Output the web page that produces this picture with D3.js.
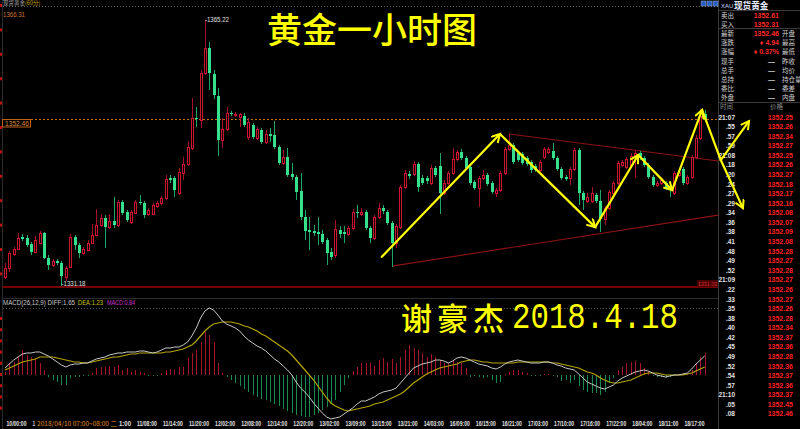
<!DOCTYPE html>
<html><head><meta charset="utf-8">
<script src="https://cdn.jsdelivr.net/npm/d3@7"></script>
<style>html,body{margin:0;padding:0;background:#000;}svg{display:block;}</style>
</head><body><svg id="c" width="800" height="429"></svg>
<script>
const open=[
1332.29,1333.45,1335.25,1335.89,1337.43,1337.30,1336.53,1335.50,1336.66,1337.94,
1334.73,1333.83,1334.35,1334.09,1332.29,1333.58,1337.43,1336.40,1335.37,1335.76,
1336.66,1337.69,1338.97,1339.87,1338.71,1339.48,1338.97,1341.92,1340.64,1339.36,
1340.51,1341.92,1341.79,1340.38,1340.38,1341.41,1341.79,1342.44,1345.00,1345.00,
1343.08,1345.65,1346.80,1348.86,1352.71,1352.45,1358.49,1361.70,1358.36,1355.53,
1349.88,1351.30,1353.35,1353.09,1352.84,1352.97,1350.27,1351.81,1350.14,1351.17,
1349.63,1350.65,1350.53,1348.99,1346.93,1347.70,1345.52,1345.13,1343.34,1340.00,
1338.33,1338.20,1338.07,1337.81,1337.04,1335.50,1335.12,1338.33,1338.07,1337.81,
1338.58,1340.64,1340.38,1340.64,1338.58,1337.30,1340.00,1341.15,1340.64,1339.23,
1336.66,1338.71,1343.85,1345.52,1345.52,1346.80,1345.00,1345.00,1344.36,1346.29,
1346.55,1343.08,1344.36,1345.65,1347.44,1348.34,1347.57,1346.42,1344.49,1343.72,
1345.00,1345.39,1344.36,1343.08,1343.46,1345.65,1348.73,1349.24,1348.21,1348.09,
1347.57,1347.06,1346.55,1346.03,1347.70,1348.34,1348.47,1347.57,1346.16,1345.13,
1345.00,1346.16,1348.60,1343.08,1342.05,1342.05,1342.82,1342.05,1339.74,1341.15,
1343.08,1344.36,1346.67,1346.42,1346.67,1347.83,1348.21,1347.57,1346.67,1345.13,
1344.11,1344.36,1344.36,1343.98,1343.08,1345.39,1346.16,1344.36,1345.13,1347.70,
1350.14,1353.22];
const high=[
1334.09,1335.63,1336.15,1337.94,1337.81,1337.69,1336.79,1337.56,1338.20,1338.07,
1335.12,1334.60,1334.60,1334.35,1333.71,1337.81,1337.69,1336.66,1336.15,1337.04,
1339.10,1341.02,1340.38,1340.25,1340.38,1342.57,1342.18,1342.18,1340.90,1340.90,
1342.18,1342.82,1342.05,1341.15,1341.79,1342.05,1342.69,1345.39,1345.39,1345.26,
1346.29,1347.70,1349.76,1355.28,1354.12,1358.87,1365.22,1362.47,1358.87,1356.56,
1352.71,1354.12,1353.61,1353.48,1353.35,1353.35,1352.71,1352.07,1351.55,1351.42,
1351.17,1351.42,1352.32,1349.24,1348.60,1348.86,1346.93,1345.39,1345.65,1340.90,
1340.00,1338.97,1340.00,1338.33,1337.30,1336.02,1339.61,1338.84,1338.84,1338.84,
1341.02,1341.54,1341.15,1340.90,1338.84,1340.25,1341.79,1341.54,1340.90,1339.48,
1339.10,1344.11,1346.03,1345.90,1347.19,1347.06,1345.39,1345.26,1346.67,1346.55,
1348.21,1344.75,1345.90,1348.86,1348.60,1348.73,1347.83,1346.67,1344.75,1345.26,
1346.03,1345.65,1344.62,1343.72,1345.90,1348.99,1350.65,1349.50,1348.47,1348.34,
1347.83,1347.32,1346.80,1347.32,1348.99,1348.99,1349.50,1347.83,1346.42,1345.39,
1346.42,1348.86,1348.86,1343.34,1343.08,1343.85,1343.08,1343.46,1341.41,1343.46,
1344.62,1347.19,1347.32,1347.70,1348.21,1348.60,1348.47,1347.83,1346.93,1345.39,
1344.62,1345.00,1344.62,1344.23,1345.90,1346.03,1346.42,1345.39,1347.96,1350.53,
1353.86,1353.74];
const low=[
1332.04,1332.94,1334.99,1335.76,1336.92,1336.15,1335.12,1335.37,1336.53,1334.60,
1333.19,1333.58,1333.83,1331.18,1331.78,1333.45,1335.76,1334.73,1335.12,1335.63,
1336.53,1337.56,1338.71,1336.02,1338.46,1338.58,1338.71,1340.25,1339.36,1339.10,
1340.38,1341.54,1339.87,1340.13,1340.25,1341.15,1341.54,1342.18,1344.36,1342.57,
1342.82,1344.75,1346.55,1348.60,1351.55,1351.42,1358.23,1356.30,1355.15,1347.83,
1348.86,1351.04,1352.97,1352.84,1351.55,1351.55,1349.88,1350.01,1349.88,1349.37,
1349.37,1349.63,1348.73,1346.67,1346.67,1345.13,1344.75,1342.18,1339.61,1337.04,
1335.76,1337.56,1336.40,1336.53,1333.83,1334.48,1334.73,1337.30,1336.66,1337.56,
1338.33,1339.87,1340.13,1338.33,1336.66,1337.04,1339.74,1340.38,1338.97,1333.58,
1336.02,1338.46,1343.59,1344.88,1345.26,1343.21,1344.11,1344.23,1344.11,1345.13,
1340.38,1342.82,1344.11,1345.39,1347.19,1347.32,1346.03,1344.11,1343.46,1341.28,
1344.75,1343.98,1342.95,1342.57,1343.21,1345.39,1348.47,1346.80,1347.06,1346.67,
1346.55,1345.65,1345.78,1345.78,1347.44,1348.09,1347.32,1345.90,1344.75,1344.62,
1344.11,1345.90,1341.54,1340.90,1341.79,1341.79,1341.79,1338.07,1338.97,1340.90,
1342.82,1344.11,1346.42,1346.16,1346.42,1345.00,1347.32,1346.42,1344.88,1343.85,
1343.85,1344.11,1343.46,1342.57,1342.82,1345.13,1344.11,1344.11,1344.88,1347.44,
1349.88,1352.20];
const close=[
1333.45,1335.37,1335.89,1337.30,1337.17,1336.40,1335.50,1337.04,1337.94,1334.73,
1333.83,1334.35,1334.09,1332.42,1333.45,1337.43,1336.40,1335.37,1335.89,1336.66,
1337.69,1338.97,1339.87,1338.71,1339.48,1338.97,1341.92,1340.51,1339.61,1340.64,
1341.92,1341.79,1340.25,1340.90,1341.54,1341.79,1342.44,1344.88,1344.75,1343.46,
1345.78,1346.80,1348.99,1352.71,1352.58,1358.49,1361.70,1358.49,1355.66,1349.88,
1351.30,1353.35,1353.22,1353.22,1353.22,1351.81,1352.20,1350.27,1351.30,1349.63,
1350.65,1350.40,1348.99,1346.93,1347.70,1345.39,1345.13,1343.21,1340.00,1338.20,
1338.07,1337.94,1337.81,1336.79,1335.37,1334.86,1338.46,1337.81,1337.81,1338.58,
1340.64,1340.51,1340.64,1338.58,1337.30,1340.00,1341.15,1340.77,1339.23,1336.66,
1338.84,1343.85,1345.65,1345.26,1346.80,1343.85,1344.36,1344.62,1346.29,1345.39,
1343.08,1344.36,1345.65,1347.44,1348.34,1347.57,1346.29,1344.36,1343.72,1345.00,
1345.39,1344.23,1343.21,1343.46,1345.65,1348.73,1349.24,1347.06,1347.32,1346.93,
1346.80,1346.03,1346.03,1347.06,1348.73,1348.73,1347.57,1346.16,1345.00,1344.88,
1346.16,1348.60,1343.08,1342.18,1342.57,1343.08,1342.05,1339.74,1341.15,1343.21,
1344.36,1346.93,1347.06,1347.44,1347.83,1348.21,1347.57,1346.67,1345.13,1344.11,
1344.36,1344.75,1343.72,1343.46,1345.65,1345.78,1344.36,1345.13,1347.70,1350.14,
1352.97,1352.46];

const diff=[
0.7,1.1,1.5,1.8,2.1,2.2,2.2,2.3,2.3,2.1,
1.9,1.6,1.3,1.0,0.8,1.0,1.1,1.1,1.2,1.2,
1.4,1.6,1.7,1.8,2.0,2.1,2.2,2.2,2.3,2.3,
2.3,2.4,2.4,2.3,2.2,2.3,2.5,2.7,2.7,2.8,
2.8,3.0,3.3,3.9,4.7,5.7,6.4,6.7,6.5,6.0,
5.4,5.1,4.9,4.7,4.4,3.9,3.5,3.2,2.9,2.7,
2.4,2.0,1.6,1.3,0.9,0.5,0.0,-0.7,-1.3,-1.7,
-2.2,-2.8,-3.3,-3.8,-4.2,-4.4,-4.3,-4.2,-3.9,-3.6,
-3.3,-2.9,-2.6,-2.6,-2.4,-2.2,-1.9,-1.7,-1.6,-1.5,
-1.3,-0.8,-0.3,0.2,0.7,0.9,1.1,1.2,1.3,1.5,
1.5,1.4,1.2,1.4,1.7,1.8,1.7,1.5,1.3,1.1,
1.0,0.9,0.7,0.6,0.8,1.1,1.3,1.4,1.5,1.4,
1.3,1.2,1.2,1.2,1.3,1.3,1.2,1.0,0.9,0.7,
0.6,0.5,0.1,-0.3,-0.7,-0.9,-1.1,-1.3,-1.4,-1.2,
-1.0,-0.6,-0.3,-0.1,0.1,0.3,0.4,0.5,0.4,0.2,
0.0,-0.1,-0.2,-0.1,0.0,0.0,0.1,0.2,0.6,1.1,
1.5,1.9];
const dea=[
0.5,0.7,0.9,1.1,1.3,1.4,1.5,1.6,1.8,1.8,
1.8,1.8,1.7,1.6,1.5,1.4,1.3,1.3,1.2,1.2,
1.3,1.4,1.5,1.6,1.7,1.8,1.8,1.9,2.0,2.1,
2.1,2.2,2.2,2.2,2.2,2.2,2.2,2.3,2.3,2.4,
2.5,2.6,2.8,3.0,3.4,3.9,4.4,4.8,5.1,5.2,
5.3,5.3,5.3,5.2,5.1,4.9,4.8,4.6,4.4,4.1,
3.9,3.6,3.3,3.0,2.7,2.4,2.0,1.5,1.0,0.5,
0.0,-0.5,-1.1,-1.7,-2.3,-2.8,-3.1,-3.3,-3.5,-3.6,
-3.5,-3.4,-3.3,-3.2,-3.1,-2.9,-2.8,-2.7,-2.5,-2.3,
-2.1,-1.9,-1.6,-1.2,-0.8,-0.5,-0.2,0.1,0.3,0.5,
0.7,0.8,0.9,1.0,1.1,1.3,1.4,1.5,1.5,1.4,
1.3,1.3,1.2,1.2,1.2,1.2,1.2,1.2,1.3,1.3,
1.3,1.3,1.3,1.3,1.3,1.3,1.2,1.2,1.1,1.0,
0.9,0.8,0.7,0.5,0.3,0.2,0.0,-0.3,-0.5,-0.7,
-0.8,-0.8,-0.7,-0.6,-0.5,-0.3,-0.1,0.1,0.2,0.2,
0.2,0.1,0.0,0.0,0.0,0.0,0.0,0.1,0.2,0.4,
0.6,0.8];
const macd=[
0.3,1.2,1.3,1.8,2.5,2.0,1.8,1.7,1.2,0.5,
-0.2,-0.5,-0.7,-1.0,-1.0,-0.3,-0.2,-0.2,-0.1,-0.1,
0.2,0.7,0.8,0.8,0.9,0.8,1.0,0.5,0.7,0.3,
0.5,0.3,0.2,-0.1,-0.1,-0.1,0.2,0.5,0.6,0.5,
0.8,0.8,1.7,2.2,2.5,3.3,4.3,4.0,3.3,1.2,
0.2,-0.2,-0.5,-0.8,-1.1,-1.4,-1.7,-2.0,-2.2,-2.4,
-2.5,-2.7,-2.9,-3.1,-3.4,-3.6,-3.8,-4.0,-4.1,-4.2,
-4.2,-4.0,-3.8,-3.5,-3.2,-2.9,-2.5,-1.7,-1.0,-0.3,
0.4,0.8,1.2,1.2,1.2,0.9,1.5,1.7,1.3,1.6,
1.2,1.8,2.5,3.0,2.7,2.5,2.2,1.8,2.1,1.8,
1.5,1.2,1.2,1.5,1.3,1.2,0.7,-0.2,-0.1,-0.2,
-0.3,-0.2,-0.5,-0.8,-0.7,0.1,0.3,0.5,0.5,0.3,
0.2,-0.1,-0.1,-0.1,0.1,0.1,-0.1,-0.2,-0.6,-0.5,
-0.8,-0.5,-1.1,-1.5,-1.7,-1.8,-1.8,-2.0,-1.7,-0.8,
-0.3,0.5,0.8,1.2,1.3,1.4,1.2,0.7,0.4,-0.1,
-0.2,-0.2,-0.3,-0.2,-0.1,0.1,0.2,0.1,0.5,1.2,
1.8,2.2];

// visible time-axis labels (the ones between 10/00 and 11/08 sit under the cursor box)
const timeLabelIdx=[0,30,36,42,48,54,60,66,72,78,84,90,96,102,108,114,120,126,132,138,144,150,156];
const timeLabels=["10/00:00","11/08:00","11/14:00","11/20:00","12/02:00","12/08:00","12/14:00","12/20:00","13/02:00","13/09:00","13/15:00","13/21:00","14/03:00","16/09:00","16/15:00","16/21:00","17/03:00","17/10:00","17/16:00","17/22:00","18/04:00","18/11:00","18/17:00"];
const cursorText="2018/04/10 07:00~08:00 二";

const quoteLabels=["卖出","买入","最新","涨跌","涨幅","现手","总手","总持","委比","外盘"];
const quoteValues=["1352.61","1352.31","1352.46","♦ 4.94","♦ 0.37%","—","—","—","—","—"];
const quoteRight=["","","开盘","最高","最低","昨收","均价","持仓量","委差","内盘"];
const tickTimes=["21:07",".55",".57",".59","21:08",".18",".20",".24",".27",".29",".34",".36",".38",".41",".48",".49",".52","21:09",".22",".33",".35",".38",".40",".42",".45",".49",".52",".54",".57","21:10",".05",".08"];
const tickPrices=["1352.25","1352.26","1352.34","1352.27","1352.25","1352.26","1352.27","1352.18","1352.17","1352.16","1352.08","1352.07","1352.09","1352.08","1352.28","1352.27","1352.28","1352.27","1352.26","1352.27","1352.26","1352.28","1352.34","1352.37","1352.36","1352.28","1352.36","1352.37","1352.36","1352.37","1352.45","1352.46"];

const lastPrice=1352.46, topPrice=1366.31, bottomPrice=1331.03, peak=1365.22, trough=1331.18;
// annotation points [candle index, price]
const arrowPath=[[86.7,1334.9],[113.9,1350.65],[135.8,1338.71],[145.7,1347.96],[153.5,1343.46],[160.4,1353.74],[164.7,1347.32]];
const arrowBranches=[[171.2,1352.32],[169.8,1341.15]];
const channel=[[[116.0,1350.65],[164.1,1347.19]],[[89.05,1333.71],[164.1,1340.25]]];

const svg=d3.select('#c');
svg.append('rect').attr('width',800).attr('height',429).attr('fill','#000');
const N=close.length;
const x=d3.scaleLinear().domain([0,N-1]).range([5,704.7]);
const y=d3.scaleLinear().domain([bottomPrice,topPrice]).range([287,12]);
const ym=d3.scaleLinear().domain([-4.5,6.7]).range([420,308]);
const px=i=>Math.round(x(i));
const LF="'Liberation Sans',Arial,sans-serif", CJK="'Noto Sans CJK SC','Noto Sans',sans-serif";

// frame lines
svg.append('line').attr('x1',2.5).attr('x2',2.5).attr('y1',0).attr('y2',429).attr('stroke','#2a2a2a');
svg.append('line').attr('x1',3).attr('x2',718).attr('y1',6.5).attr('y2',6.5).attr('stroke','#666').attr('stroke-dasharray','1,2');
svg.append('line').attr('x1',3).attr('x2',718).attr('y1',298.5).attr('y2',298.5).attr('stroke','#2c2c2c');
svg.append('line').attr('x1',3).attr('x2',718).attr('y1',308.5).attr('y2',308.5).attr('stroke','#555').attr('stroke-dasharray','1,2');
svg.append('line').attr('x1',718.5).attr('x2',718.5).attr('y1',0).attr('y2',429).attr('stroke','#3a3a3a');
// left red tick remnants
svg.selectAll('rect.lt').data(d3.range(5,280,24.4).concat(d3.range(318,412,11.2))).join('rect')
  .attr('x',0).attr('y',d=>d-1).attr('width',2).attr('height',3).attr('fill','#c01010');

// last price dotted line
svg.append('line').attr('x1',31).attr('x2',718).attr('y1',Math.round(y(lastPrice))-0.5).attr('y2',Math.round(y(lastPrice))-0.5)
  .attr('stroke','#c0701c').attr('stroke-dasharray','2,2');
// bottom red line
svg.append('line').attr('x1',3).attr('x2',718).attr('y1',y(bottomPrice)).attr('y2',y(bottomPrice)).attr('stroke','#780000').attr('stroke-width',2);

// channel lines
svg.selectAll('line.ch').data(channel).join('line')
  .attr('x1',d=>x(d[0][0])).attr('y1',d=>y(d[0][1])).attr('x2',d=>x(d[1][0])).attr('y2',d=>y(d[1][1]))
  .attr('stroke','#8c1212').attr('stroke-width',1.1);

// candles
const cd=d3.range(N).map(i=>({i,o:open[i],h:high[i],l:low[i],c:close[i],up:close[i]>=open[i]}));
svg.selectAll('line.wick').data(cd).join('line')
  .attr('x1',d=>px(d.i)+0.5).attr('x2',d=>px(d.i)+0.5)
  .attr('y1',d=>Math.round(y(d.h))).attr('y2',d=>Math.round(y(d.l)))
  .attr('stroke',d=>d.up?'#a8102a':'#1ea865');
svg.selectAll('rect.up').data(cd.filter(d=>d.up)).join('rect')
  .attr('x',d=>px(d.i)-0.5).attr('width',2)
  .attr('y',d=>Math.round(y(d.c))+0.5)
  .attr('height',d=>Math.max(Math.round(y(d.o))-Math.round(y(d.c)),1))
  .attr('fill','#000').attr('stroke','#cc1630').attr('stroke-width',1);
svg.selectAll('rect.dn').data(cd.filter(d=>!d.up)).join('rect')
  .attr('x',d=>px(d.i)-1).attr('width',3)
  .attr('y',d=>Math.round(y(d.o)))
  .attr('height',d=>Math.max(Math.round(y(d.c))-Math.round(y(d.o)),1))
  .attr('fill','#36e08c');

// price labels
svg.append('text').attr('x',3).attr('y',17).attr('font-family',LF).attr('font-size',6.5).attr('fill','#c87830')
  .attr('textLength',22).attr('lengthAdjust','spacingAndGlyphs').text(topPrice.toFixed(2));
svg.append('rect').attr('x',2.5).attr('y',Math.round(y(lastPrice))-0.5).attr('width',28).attr('height',7.5)
  .attr('fill','#000').attr('stroke','#c06010');
svg.append('text').attr('x',5).attr('y',Math.round(y(lastPrice))+5.5).attr('font-family',LF).attr('font-size',6.5).attr('fill','#d88a30')
  .attr('textLength',24).attr('lengthAdjust','spacingAndGlyphs').text(lastPrice.toFixed(2));
const peakIdx=high.indexOf(peak), troughIdx=low.indexOf(trough);
svg.append('text').attr('x',x(peakIdx)).attr('y',y(peak)+2).attr('font-family',LF).attr('font-size',6.5).attr('fill','#e0e0e0')
  .attr('textLength',24).attr('lengthAdjust','spacingAndGlyphs').text('-'+peak.toFixed(2));
svg.append('text').attr('x',x(troughIdx)).attr('y',y(trough)+0.5).attr('font-family',LF).attr('font-size',6.5).attr('fill','#e0e0e0')
  .attr('textLength',24).attr('lengthAdjust','spacingAndGlyphs').text('-'+trough.toFixed(2));
svg.append('rect').attr('x',697).attr('y',y(bottomPrice)-7).attr('width',21).attr('height',7).attr('fill','#4a0000');
svg.append('text').attr('x',698).attr('y',y(bottomPrice)-1.2).attr('font-family',LF).attr('font-size',6).attr('fill','#d03030')
  .attr('textLength',19).attr('lengthAdjust','spacingAndGlyphs').text(bottomPrice.toFixed(2));

// header top-left
const hd=svg.append('text').attr('x',3).attr('y',5).attr('font-family',CJK).attr('font-size',5.5);
hd.append('tspan').attr('fill','#a8a8a8').text('现货黄金');
hd.append('tspan').attr('fill','#c8a000').text('(60分)');

// MACD
svg.selectAll('line.mb').data(macd.map((v,i)=>({v,i}))).join('line')
  .attr('x1',d=>px(d.i)+0.5).attr('x2',d=>px(d.i)+0.5)
  .attr('y1',ym(0)).attr('y2',d=>ym(d.v))
  .attr('stroke',d=>d.v>=0?'#a8122a':'#178a4e');
const ln=d3.line().x((v,i)=>x(i)).y(v=>ym(v));
svg.append('path').attr('d',ln(dea)).attr('fill','none').attr('stroke','#b4a400').attr('stroke-width',1.2);
svg.append('path').attr('d',ln(diff)).attr('fill','none').attr('stroke','#c8c8c8').attr('stroke-width',1);
const mt=[["MACD(26,12,9) DIFF:1.65",3,72,'#c8c8c8'],["DEA:1.23",78,25,'#c8c000'],["MACD:0.84",107,28,'#d030d0']];
svg.selectAll('text.mt').data(mt).join('text').attr('x',d=>d[1]).attr('y',305).attr('font-family',LF).attr('font-size',6.5)
  .attr('fill',d=>d[3]).attr('textLength',d=>d[2]).attr('lengthAdjust','spacingAndGlyphs').text(d=>d[0]);

// time axis
svg.selectAll('text.tl').data(timeLabelIdx).join('text')
  .attr('x',d=>x(d)+1.5).attr('y',426).attr('font-family',LF).attr('font-weight','bold').attr('font-size',6.5).attr('fill','#e0e0e0')
  .attr('textLength',20).attr('lengthAdjust','spacingAndGlyphs').text((d,k)=>timeLabels[k]);
const cur=svg.append('text').attr('x',32).attr('y',426).attr('font-family',CJK).attr('font-size',6.5)
  .attr('textLength',85).attr('lengthAdjust','spacingAndGlyphs');
cur.append('tspan').attr('fill','#e0e0e0').text('1 ');
cur.append('tspan').attr('fill','#e08a20').text(cursorText);
svg.append('text').attr('x',119).attr('y',426).attr('font-family',LF).attr('font-weight','bold').attr('font-size',6.5).attr('fill','#e0e0e0')
  .attr('textLength',12).attr('lengthAdjust','spacingAndGlyphs').text('1:00');

// right panel
svg.selectAll('rect.ic').data([0,1,2]).join('rect').attr('x',d=>701+d*6).attr('y',1).attr('width',5).attr('height',5)
  .attr('fill','#2a5cc8').attr('stroke','#9ab').attr('stroke-width',0.5);
svg.append('text').attr('x',721).attr('y',8).attr('font-family',LF).attr('font-size',6).attr('fill','#c8d4ff').text('XAU');
svg.append('text').attr('x',734).attr('y',9).attr('font-family',CJK).attr('font-weight','bold').attr('font-size',8.6).attr('fill','#e8ecff').text('现货黄金');
[10.5,28.5,102.5].forEach(v=>svg.append('line').attr('x1',718).attr('x2',800).attr('y1',v).attr('y2',v).attr('stroke','#3a3a3a'));
const qy=k=>17.5+k*9.2;
svg.selectAll('text.ql').data(quoteLabels).join('text').attr('x',721).attr('y',(d,k)=>qy(k))
  .attr('font-family',CJK).attr('font-size',6.5).attr('fill','#d0d0d0').text(d=>d);
svg.selectAll('text.qv').data(quoteValues).join('text').attr('x',(d,k)=>k<5?779:775).attr('y',(d,k)=>qy(k))
  .attr('text-anchor','end').attr('font-family',LF).attr('font-weight','bold').attr('font-size',7)
  .attr('fill',(d,k)=>k<5?'#ff2a2a':'#d0d0d0').text(d=>d);
svg.selectAll('text.qr').data(quoteRight).join('text').attr('x',782).attr('y',(d,k)=>qy(k))
  .attr('font-family',CJK).attr('font-size',6.5).attr('fill','#d0d0d0').text(d=>d);
svg.append('text').attr('x',720).attr('y',109).attr('font-family',CJK).attr('font-size',6.5).attr('fill','#8a8a8a').text('时间');
svg.append('text').attr('x',770).attr('y',109).attr('font-family',CJK).attr('font-size',6.5).attr('fill','#8a8a8a').text('价格');
const ty=k=>119.5+k*9.58;
svg.selectAll('text.tt').data(tickTimes).join('text').attr('x',735).attr('y',(d,k)=>ty(k)).attr('text-anchor','end')
  .attr('font-family',LF).attr('font-weight','bold').attr('font-size',6.5).attr('fill','#e0e0e0').text(d=>d);
svg.selectAll('text.tp').data(tickPrices).join('text').attr('x',793).attr('y',(d,k)=>ty(k)).attr('text-anchor','end')
  .attr('font-family',LF).attr('font-weight','bold').attr('font-size',7).attr('fill','#ff2020').text(d=>d);

// titles
svg.append('text').attr('x',267).attr('y',43).attr('font-family',CJK).attr('font-weight',500).attr('font-size',35).attr('fill','#ffff00').text('黄金一小时图');
svg.append('text').attr('x',401).attr('y',330).attr('font-family',CJK).attr('font-weight',500).attr('font-size',31).attr('letter-spacing',5).attr('fill','#ffff00').text('谢豪杰');
svg.append('text').attr('x',512).attr('y',328).attr('font-family',"'Liberation Mono',monospace").attr('font-size',36).attr('fill','#ffff00')
  .attr('textLength',166).attr('lengthAdjust','spacingAndGlyphs').text('2018.4.18');

// yellow arrows
const defs=svg.append('defs');
defs.append('marker').attr('id','ah').attr('markerUnits','userSpaceOnUse').attr('markerWidth',12).attr('markerHeight',12)
  .attr('refX',9).attr('refY',5).attr('orient','auto')
  .append('path').attr('d','M1,0.5 L9,5 L1,9.5').attr('fill','none').attr('stroke','#ffff00').attr('stroke-width',2);
const segs=[];
for(let k=0;k<arrowPath.length-1;k++) segs.push({a:arrowPath[k],b:arrowPath[k+1],head:k<arrowPath.length-2});
arrowBranches.forEach(b=>segs.push({a:arrowPath[arrowPath.length-1],b,head:true}));
svg.selectAll('line.ar').data(segs).join('line')
  .attr('x1',d=>x(d.a[0])).attr('y1',d=>y(d.a[1])).attr('x2',d=>x(d.b[0])).attr('y2',d=>y(d.b[1]))
  .attr('stroke','#ffff00').attr('stroke-width',2.2).attr('stroke-linecap','round')
  .attr('marker-end',d=>d.head?'url(#ah)':null);
</script></body></html>
